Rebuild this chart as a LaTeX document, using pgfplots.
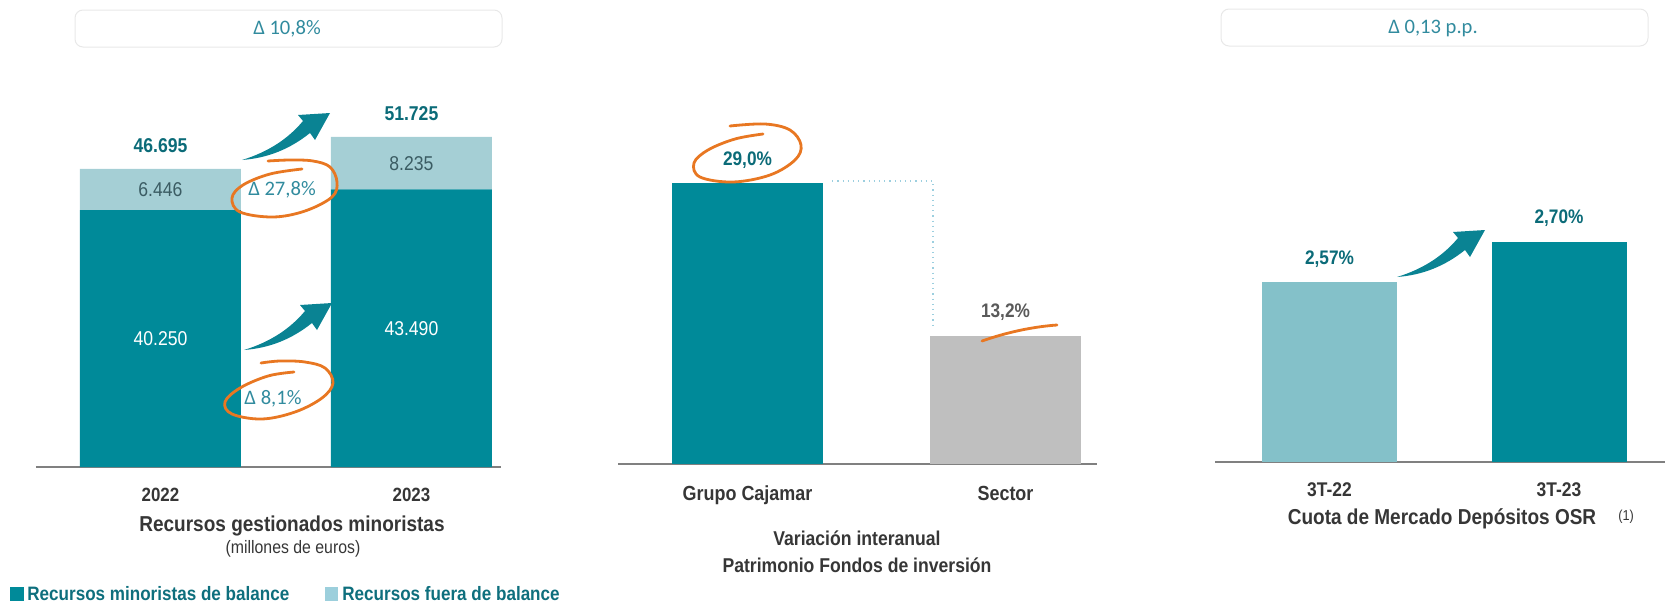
\documentclass[border=0pt]{standalone}
\usepackage{fontspec}
\setmainfont{Liberation Sans}[FakeStretch=0.88]
\newfontfamily\carl{Carlito}
\usepackage{pgfplots}
\pgfplotsset{compat=1.18}
\definecolor{tealD}{HTML}{008A99}
\definecolor{tealL}{HTML}{A5CFD5}
\definecolor{tealM}{HTML}{84C1C9}
\definecolor{grayB}{HTML}{BFBFBF}
\definecolor{valT}{HTML}{0B6B78}
\definecolor{segT}{HTML}{3B5C63}
\definecolor{txtD}{HTML}{363636}
\definecolor{legT}{HTML}{0E6F7D}
\definecolor{legL}{HTML}{9CCFDC}
\definecolor{delT}{HTML}{318B9E}
\definecolor{ora}{HTML}{E87722}
\definecolor{dotB}{HTML}{9CCFDF}
\definecolor{axG}{HTML}{808080}
\definecolor{arrT}{HTML}{0A8393}
\definecolor{boxG}{HTML}{E8E8E8}
\definecolor{secT}{HTML}{5A5A5A}
\newcommand{\fs}[1]{\fontsize{#1}{#1}\selectfont}
\newcommand{\tarrow}[1]{\fill[arrT, shift={#1}] (-88,47) .. controls (-62,39) and (-42,26) .. (-27,8) -- (-32,2) -- (0,0) -- (-15,27) -- (-20,20) .. controls (-40,36) and (-62,45) .. (-88,47) -- cycle;}
\pgfplotsset{
  panel/.style={
    scale only axis, clip=false,
    axis x line=bottom, axis y line=none,
    axis line style={-, draw=axG, line width=0.8pt},
    x axis line style={-},
    ytick=\empty,
    xtick={0,1}, major tick length=0, xtick style={draw=none},
    xticklabel style={anchor=base, inner sep=0pt, text=txtD},
    anchor=south west,
  }
}
\begin{document}
\begin{tikzpicture}
\path[use as bounding box] (0,0) rectangle (832.5pt,-300pt);

% Panel 1
\begin{axis}[panel, at={(18pt,-233.5pt)}, width=232.5pt, height=191.46pt,
  xmin=-0.496, xmax=1.357, ymin=0, ymax=60000, ybar stacked, bar width=80.5pt,
  xticklabels={2022,2023},
  xticklabel style={yshift=-17pt, font=\bfseries\fs{9.6}}]
\addplot[fill=tealD, draw=none] coordinates {(0,40250) (1,43490)};
\addplot[fill=tealL, draw=none] coordinates {(0,6446) (1,8235)};
\coordinate (a1) at (axis cs:0,20125);
\coordinate (a2) at (axis cs:1,21745);
\coordinate (b1) at (axis cs:0,43473);
\coordinate (b2) at (axis cs:1,47607);
\coordinate (t1) at (axis cs:0,46695);
\coordinate (t2) at (axis cs:1,51725);
\end{axis}
\node[inner sep=0, text=white, font=\fs{10}] at (a1) {40.250};
\node[inner sep=0, text=white, font=\fs{10}] at (a2) {43.490};
\node[inner sep=0, text=segT, font=\fs{10}] at (b1) {6.446};
\node[inner sep=0, text=segT, font=\fs{10}] at (b2) {8.235};
\node[inner sep=0, text=valT, font=\bfseries\fs{10}, yshift=11.5pt] at (t1) {46.695};
\node[inner sep=0, text=valT, font=\bfseries\fs{10}, yshift=11.5pt] at (t2) {51.725};

% Panel 2
\begin{axis}[panel, at={(309pt,-232pt)}, width=239.5pt, height=169.6pt,
  xmin=-0.502, xmax=1.3547, ymin=0, ymax=35, ybar, bar width=75.5pt,
  xticklabels={Grupo Cajamar,Sector},
  xticklabel style={yshift=-18pt, font=\bfseries\fs{10.2}}]
\addplot[fill=tealD, draw=none, bar shift=0pt] coordinates {(0,29.0)};
\addplot[fill=grayB, draw=none, bar shift=0pt] coordinates {(1,13.2)};
\draw[dotB, dotted, line width=0.6pt] (axis cs:0.328,29.2) -- (axis cs:0.719,29.2) -- (axis cs:0.719,14.1);
\node[inner sep=0, text=valT, font=\bfseries\fs{9.8}, yshift=11.5pt] at (axis cs:0,29.0) {29,0\%};
\node[inner sep=0, text=secT, font=\bfseries\fs{9.8}, yshift=12pt] at (axis cs:1,13.2) {13,2\%};
\end{axis}

% Panel 3
\begin{axis}[panel, at={(607.5pt,-231pt)}, width=225pt, height=140.8pt,
  xmin=-0.4989, xmax=1.4619, ymin=1.985, ymax=2.9, ybar, bar width=67.5pt,
  xticklabels={3T-22,3T-23},
  xticklabel style={yshift=-17pt, font=\bfseries\fs{9.9}}]
\addplot[fill=tealM, draw=none, bar shift=0pt] coordinates {(0,2.57)};
\addplot[fill=tealD, draw=none, bar shift=0pt] coordinates {(1,2.70)};
\node[inner sep=0, text=valT, font=\bfseries\fs{9.8}, yshift=11.5pt] at (axis cs:0,2.57) {2,57\%};
\node[inner sep=0, text=valT, font=\bfseries\fs{9.8}, yshift=12pt] at (axis cs:1,2.70) {2,70\%};
\end{axis}

\begin{scope}[x=0.5pt,y=-0.5pt]
% delta boxes
\draw[boxG, line width=0.5pt, rounded corners=4pt] (75,10) rectangle (502,47);
\node[inner sep=0, text=delT, font=\carl\fs{10.3}] at (287,29) {Δ 10,8\%};
\draw[boxG, line width=0.5pt, rounded corners=4pt] (1221,9) rectangle (1648,46);
\node[inner sep=0, text=delT, font=\carl\fs{10.3}] at (1433,28) {Δ 0,13 p.p.};
% arrows
\tarrow{(330,113)}
\tarrow{(332,303)}
\tarrow{(1485,230)}
% hand-drawn circles
\draw[ora, line width=1.4pt, line cap=round] plot[smooth, tension=0.6] coordinates {(302,169) (270,174) (243,185) (232,198) (240,212) (273,217) (305,211) (332,197) (337,182) (330,167) (313,161) (290,160) (268,161)};
\node[inner sep=0, text=delT, font=\carl\fs{10.3}] at (282,190) {Δ 27,8\%};
\draw[ora, line width=1.4pt, line cap=round] plot[smooth, tension=0.6] coordinates {(294,372) (268,376) (240,388) (225,402) (232,414) (262,419) (295,412) (322,398) (333,383) (325,368) (305,362) (280,361) (261,363)};
\node[inner sep=0, text=delT, font=\carl\fs{10.3}] at (273,399) {Δ 8,1\%};
\draw[ora, line width=1.4pt, line cap=round] plot[smooth, tension=0.6] coordinates {(763,134) (735,139) (708,150) (694,163) (700,177) (733,182) (770,175) (795,160) (801,145) (790,130) (765,124) (730,126)};
\draw[ora, line width=1.4pt, line cap=round] (982,341) .. controls (1005,333) and (1030,327) .. (1057,325);
% titles
\node[inner sep=0, anchor=base, text=txtD, font=\bfseries\fs{10.8}] at (292,531) {Recursos gestionados minoristas};
\node[inner sep=0, anchor=base, text=txtD, font=\fs{9}] at (293,553) {(millones de euros)};
\node[inner sep=0, anchor=base, text=txtD, font=\bfseries\fs{10}] at (857,545) {Variación interanual};
\node[inner sep=0, anchor=base, text=txtD, font=\bfseries\fs{10}] at (857,572) {Patrimonio Fondos de inversión};
\node[inner sep=0, anchor=base, text=txtD, font=\bfseries\fs{10.8}] at (1442,524) {Cuota de Mercado Depósitos OSR};
\node[inner sep=0, anchor=base west, text=txtD, font=\fs{7.2}] at (1618,520) {(1)};
% legend
\fill[tealD] (10,587) rectangle (24,601);
\node[inner sep=0, anchor=base west, text=legT, font=\bfseries\fs{9.7}] at (27,600) {Recursos minoristas de balance};
\fill[legL] (325,587) rectangle (338,601);
\node[inner sep=0, anchor=base west, text=legT, font=\bfseries\fs{9.7}] at (342,600) {Recursos fuera de balance};
\end{scope}
\end{tikzpicture}
\end{document}
